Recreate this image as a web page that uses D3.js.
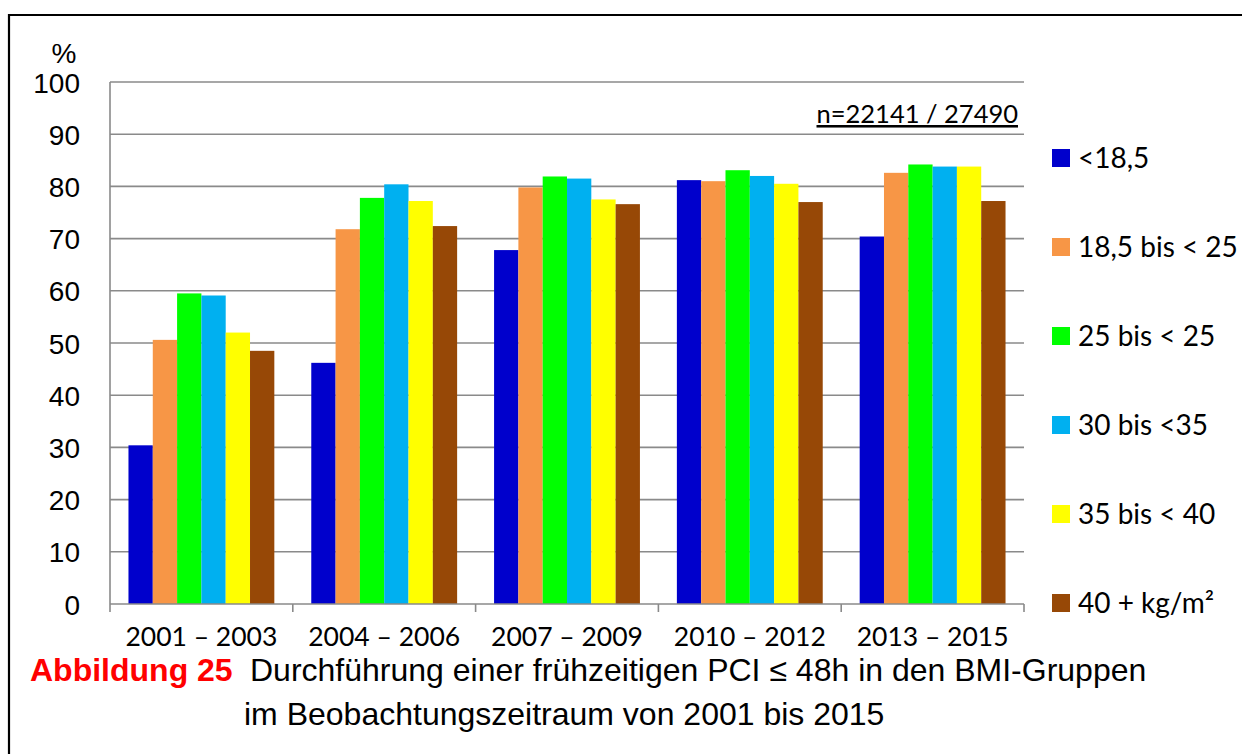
<!DOCTYPE html>
<html>
<head>
<meta charset="utf-8">
<script src="https://cdn.jsdelivr.net/npm/d3@7"></script>
<style>
  html, body { margin: 0; padding: 0; background: #fff; }
  svg { display: block; }
</style>
</head>
<body>
<svg id="chart" width="1242" height="754"></svg>
<script>
// ---- data ----
const categories = ["2001 – 2003", "2004 – 2006", "2007 – 2009", "2010 – 2012", "2013 – 2015"];
const seriesNames = ["<18,5", "18,5 bis < 25", "25 bis < 25", "30 bis <35", "35 bis < 40", "40 + kg/m²"];
const seriesColors = ["#0000CC", "#F79646", "#00FF00", "#00B0F0", "#FFFF00", "#974806"];
const bmiUnder185 = [30.4, 46.2, 67.8, 81.2, 70.4];
const bmi185to25 = [50.6, 71.8, 79.8, 81.0, 82.6];
const bmi25to30 = [59.5, 77.8, 81.9, 83.1, 84.2];
const bmi30to35 = [59.1, 80.4, 81.5, 82.0, 83.8];
const bmi35to40 = [52.0, 77.2, 77.5, 80.5, 83.8];
const bmi40plus = [48.5, 72.4, 76.6, 77.0, 77.2];
const seriesValues = [bmiUnder185, bmi185to25, bmi25to30, bmi30to35, bmi35to40, bmi40plus];
const yTicks = [0, 10, 20, 30, 40, 50, 60, 70, 80, 90, 100];
const nLabel = "n=22141 / 27490";
const captionBold = "Abbildung 25";
const captionLine1 = "Durchführung einer frühzeitigen PCI ≤ 48h in den BMI-Gruppen";
const captionLine2 = "im Beobachtungszeitraum von 2001 bis 2015";

// ---- layout ----
const svg = d3.select("#chart");
const plot = { left: 110, right: 1024, top: 82, bottom: 604 };

const x = d3.scaleBand().domain(categories).range([plot.left, plot.right]).padding(0);
const xInner = d3.scaleBand().domain(d3.range(seriesNames.length))
  .range([0, x.bandwidth()]).paddingInner(0).paddingOuter(0.76);
const y = d3.scaleLinear().domain([0, 100]).range([plot.bottom, plot.top]);

// outer frame
svg.append("path")
  .attr("d", `M9,754 L9,15 L1242,15`)
  .attr("fill", "none").attr("stroke", "#000").attr("stroke-width", 2.2);

// gridlines
svg.append("g").selectAll("line").data(yTicks.filter(d => d > 0)).join("line")
  .attr("x1", plot.left).attr("x2", plot.right)
  .attr("y1", d => y(d)).attr("y2", d => y(d))
  .attr("stroke", "#8a8a8a").attr("stroke-width", 1.6);

// y axis labels
const yAxis = d3.axisLeft(y).tickValues(yTicks).tickSize(0).tickPadding(30);
const gy = svg.append("g").attr("transform", `translate(${plot.left},0)`).call(yAxis);
gy.select(".domain").remove();
gy.selectAll("text")
  .attr("font-family", "Liberation Sans, Arial, sans-serif")
  .attr("font-size", 28).attr("fill", "#000").attr("dy", "0.36em");

svg.append("text").attr("x", 64).attr("y", 63).attr("text-anchor", "middle")
  .attr("font-family", "Liberation Sans, Arial, sans-serif").attr("font-size", 28)
  .text("%");

// bars
const groups = svg.append("g").selectAll("g").data(categories).join("g")
  .attr("transform", d => `translate(${x(d)},0)`);
groups.selectAll("rect")
  .data((c, ci) => seriesValues.map((vals, si) => ({ si, v: vals[ci] })))
  .join("rect")
  .attr("x", d => xInner(d.si))
  .attr("width", xInner.bandwidth())
  .attr("y", d => y(d.v))
  .attr("height", d => y(0) - y(d.v))
  .attr("fill", d => seriesColors[d.si]);

// left axis line
svg.append("line").attr("x1", plot.left).attr("x2", plot.left)
  .attr("y1", plot.top).attr("y2", plot.bottom)
  .attr("stroke", "#8a8a8a").attr("stroke-width", 1.6);

// x axis
const xAxis = d3.axisBottom(x).tickSize(0).tickPadding(0);
const gx = svg.append("g").attr("transform", `translate(0,${plot.bottom})`).call(xAxis);
gx.select(".domain").attr("stroke", "#8a8a8a").attr("stroke-width", 1.6)
  .attr("d", `M${plot.left},0H${plot.right}`);
gx.selectAll("text")
  .attr("y", 42).attr("dy", null)
  .attr("font-family", "Lato, sans-serif").attr("font-size", 26.5).attr("fill", "#000");
// boundary ticks
const boundaries = categories.map(c => x(c)).concat([x(categories[categories.length - 1]) + x.bandwidth()]);
svg.append("g").selectAll("line").data(boundaries).join("line")
  .attr("x1", d => d).attr("x2", d => d)
  .attr("y1", plot.bottom).attr("y2", plot.bottom + 8)
  .attr("stroke", "#8a8a8a").attr("stroke-width", 1.6);

// n label
svg.append("text").attr("x", 1018).attr("y", 123).attr("text-anchor", "end")
  .attr("font-family", "Lato, sans-serif").attr("font-size", 25.5)
  .attr("text-decoration", "underline").text(nLabel);

// legend
const legend = svg.append("g").selectAll("g").data(seriesNames).join("g")
  .attr("transform", (d, i) => `translate(1052,${158 + i * 89})`);
legend.append("rect").attr("x", 0).attr("y", -9).attr("width", 18).attr("height", 18)
  .attr("fill", (d, i) => seriesColors[i]);
legend.append("text").attr("x", 26).attr("y", 0).attr("dy", "0.36em")
  .attr("font-family", "Lato, sans-serif").attr("font-size", 28).text(d => d);

// caption
svg.append("text").attr("x", 30).attr("y", 681)
  .attr("font-family", "Liberation Sans, Arial, sans-serif").attr("font-size", 32)
  .attr("font-weight", "bold").attr("fill", "#FF0000").text(captionBold);
svg.append("text").attr("x", 250).attr("y", 681)
  .attr("font-family", "Liberation Sans, Arial, sans-serif").attr("font-size", 32)
  .attr("fill", "#000").text(captionLine1);
svg.append("text").attr("x", 244).attr("y", 725)
  .attr("font-family", "Liberation Sans, Arial, sans-serif").attr("font-size", 32)
  .attr("fill", "#000").text(captionLine2);
</script>
</body>
</html>
